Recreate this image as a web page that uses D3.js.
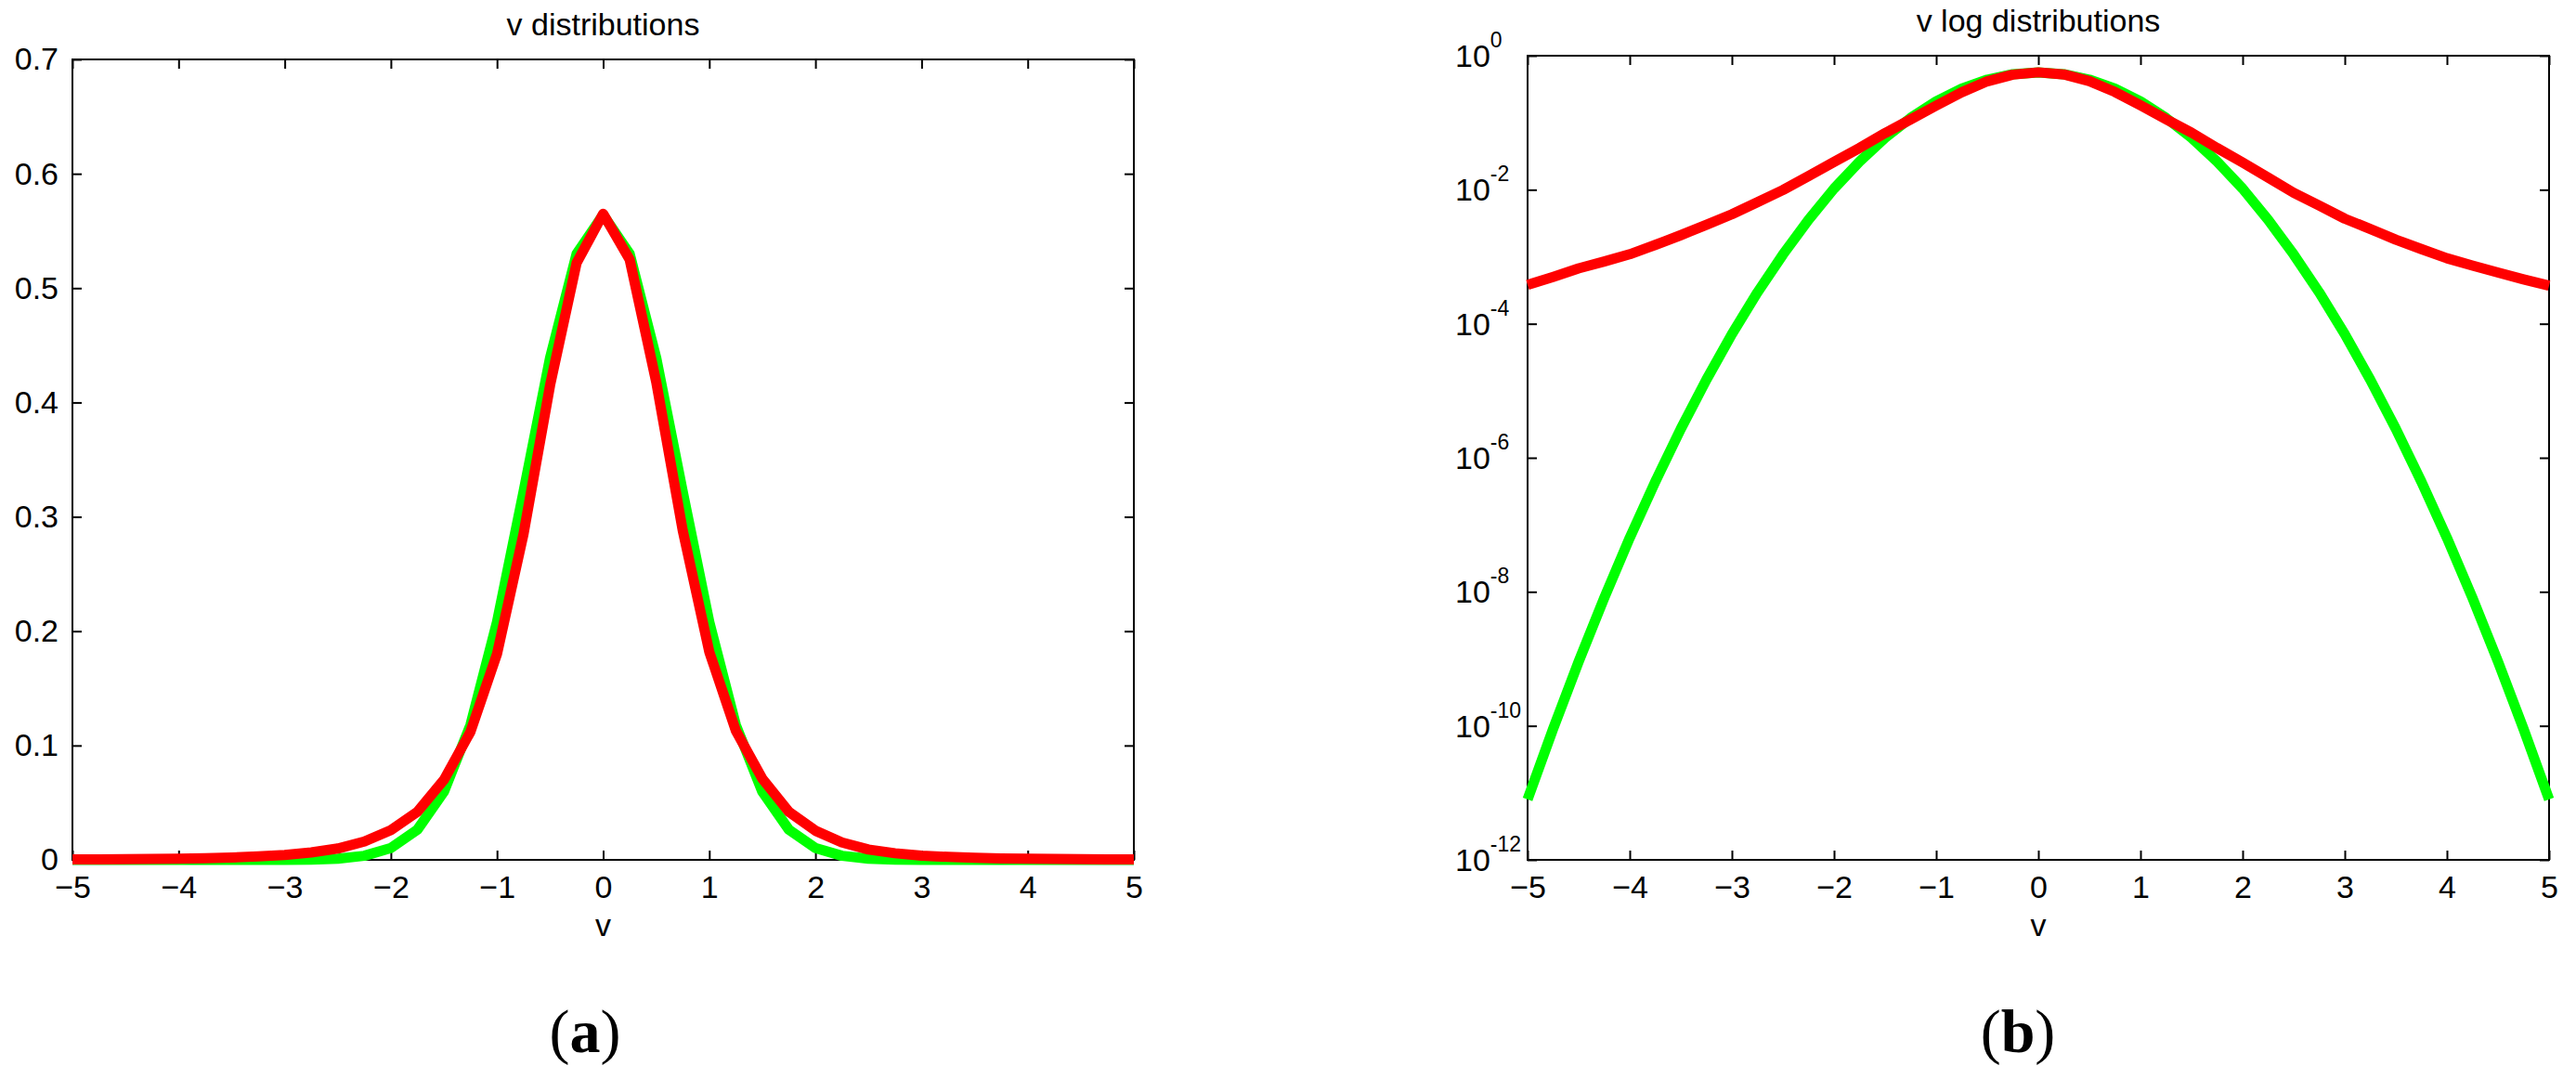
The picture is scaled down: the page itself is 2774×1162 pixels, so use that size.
<!DOCTYPE html>
<html>
<head>
<meta charset="utf-8">
<script src="https://cdn.jsdelivr.net/npm/d3@7"></script>
<style>
  html, body { margin: 0; padding: 0; background: #fff; }
  svg { display: block; }
</style>
</head>
<body>
<svg id="fig"></svg>
<script>
// sample points along v
var vValues = [-5, -4.75, -4.5, -4.25, -4, -3.75, -3.5, -3.25, -3, -2.75, -2.5, -2.25, -2, -1.75, -1.5, -1.25, -1,
  -0.75, -0.5, -0.25, 0, 0.25, 0.5, 0.75, 1, 1.25, 1.5, 1.75, 2, 2.25, 2.5, 2.75, 3, 3.25, 3.5, 3.75, 4,
  4.25, 4.5, 4.75, 5];

// green curve
var greenValues = [8e-12, 9.0e-11, 9.1e-10, 8.1e-9, 6.4e-8, 4.4e-7, 2.7e-6, 1.46e-5, 7.0e-5, 2.93e-4, 1.08e-3,
  3.55e-3, 0.0104, 0.0264, 0.0596, 0.118, 0.208, 0.322, 0.439, 0.530, 0.564, 0.530, 0.439, 0.322, 0.208,
  0.118, 0.0596, 0.0264, 0.0104, 3.55e-3, 1.08e-3, 2.93e-4, 7.0e-5, 1.46e-5, 2.7e-6, 4.4e-7, 6.4e-8,
  8.1e-9, 9.1e-10, 9.0e-11, 8e-12];

// red curve (heavier tails)
var redValues = [3.8e-4, 5.0e-4, 6.7e-4, 8.5e-4, 1.09e-3, 1.5e-3, 2.1e-3, 3.0e-3, 4.3e-3, 6.5e-3, 9.9e-3,
  0.0160, 0.0260, 0.042, 0.070, 0.112, 0.180, 0.285, 0.415, 0.522, 0.565, 0.525, 0.418, 0.288, 0.182,
  0.113, 0.071, 0.042, 0.0255, 0.0152, 0.0090, 0.0058, 0.0037, 0.0026, 0.0018, 0.0013, 9.5e-4,
  7.4e-4, 5.8e-4, 4.6e-4, 3.7e-4];

var xTicks = [-5, -4, -3, -2, -1, 0, 1, 2, 3, 4, 5];
var linTicks = [0, 0.1, 0.2, 0.3, 0.4, 0.5, 0.6, 0.7];
var logExponents = [-12, -10, -8, -6, -4, -2, 0];

var W = 2774, H = 1162;
var FONT = "'Liberation Sans', Arial, Helvetica, sans-serif";
var TICK_FS = 34;

var svg = d3.select('#fig').attr('width', W).attr('height', H);
svg.append('rect').attr('width', W).attr('height', H).attr('fill', '#fff');

var greenData = vValues.map((v, i) => ({v: v, y: greenValues[i]}));
var redData = vValues.map((v, i) => ({v: v, y: redValues[i]}));

var linFormat = d => d === 0 ? '0' : d3.format('.1f')(d);

// draws one MATLAB style panel
function panel(opt) {
  var g = svg.append('g');
  var x = d3.scaleLinear().domain([-5, 5]).range([opt.left, opt.right]);
  var y = opt.y;

  // box
  g.append('rect')
      .attr('x', opt.left).attr('y', opt.top)
      .attr('width', opt.right - opt.left).attr('height', opt.bottom - opt.top)
      .attr('fill', 'none').attr('stroke', '#000').attr('stroke-width', 2);

  // bottom axis with labels, ticks pointing inward
  var bottom = g.append('g')
      .attr('transform', 'translate(0,' + opt.bottom + ')')
      .call(d3.axisBottom(x).tickValues(xTicks).tickSizeInner(-10).tickSizeOuter(0).tickPadding(17));
  // top mirror ticks
  var top = g.append('g')
      .attr('transform', 'translate(0,' + opt.top + ')')
      .call(d3.axisTop(x).tickValues(xTicks).tickSizeInner(-10).tickSizeOuter(0).tickFormat(''));

  // left axis
  var leftAxis = d3.axisLeft(y).tickValues(opt.yTicks).tickSizeInner(-10).tickSizeOuter(0).tickPadding(15);
  leftAxis.tickFormat(opt.log ? '' : linFormat);
  var left = g.append('g')
      .attr('transform', 'translate(' + opt.left + ',0)')
      .call(leftAxis);
  var right = g.append('g')
      .attr('transform', 'translate(' + opt.right + ',0)')
      .call(d3.axisRight(y).tickValues(opt.yTicks).tickSizeInner(-10).tickSizeOuter(0).tickFormat(''));

  [bottom, top, left, right].forEach(a => {
    a.select('.domain').remove();
    a.selectAll('.tick line').attr('stroke', '#000').attr('stroke-width', 2);
    a.selectAll('text').attr('font-family', FONT).attr('font-size', TICK_FS).attr('fill', '#000');
  });

  if (opt.log) {
    // 10^n labels
    g.selectAll('.loglab')
      .data(logExponents)
      .enter().append('text')
      .attr('class', 'loglab')
      .attr('x', opt.left - 78)
      .attr('y', e => y(Math.pow(10, e)) + 12)
      .attr('font-family', FONT).attr('font-size', TICK_FS)
      .each(function(e) {
        var t = d3.select(this);
        t.append('tspan').text('10');
        t.append('tspan').attr('dy', -21).attr('font-size', 23).text(e < 0 ? '-' + (-e) : e);
      });
  }

  // title and axis label
  g.append('text')
      .attr('x', (opt.left + opt.right) / 2).attr('y', opt.top - 26)
      .attr('text-anchor', 'middle')
      .attr('font-family', FONT).attr('font-size', 34)
      .text(opt.title);
  g.append('text')
      .attr('x', (opt.left + opt.right) / 2).attr('y', opt.bottom + 82)
      .attr('text-anchor', 'middle')
      .attr('font-family', FONT).attr('font-size', TICK_FS)
      .text('v');

  // (a) / (b)
  var lab = g.append('text')
      .attr('x', opt.tag).attr('y', 1133)
      .attr('text-anchor', 'middle')
      .attr('font-family', "'Liberation Serif', 'DejaVu Serif', serif")
      .attr('font-size', 66);
  lab.append('tspan').text('(');
  lab.append('tspan').attr('font-weight', 'bold').text(opt.letter);
  lab.append('tspan').text(')');

  // curves
  var line = d3.line().x(d => x(d.v)).y(d => y(d.y));
  [[greenData, '#00ff00'], [redData, '#ff0000']].forEach(s => {
    g.append('path')
        .datum(s[0])
        .attr('d', line)
        .attr('fill', 'none')
        .attr('stroke', s[1])
        .attr('stroke-width', 11)
        .attr('stroke-linejoin', 'round')
        .attr('stroke-linecap', 'butt');
  });
}

panel({
  left: 78, right: 1221, top: 64, bottom: 926,
  y: d3.scaleLinear().domain([0, 0.7]).range([926, 64]),
  yTicks: linTicks,
  title: 'v distributions',
  tag: 630, letter: 'a'
});

panel({
  left: 1645, right: 2745, top: 60, bottom: 926, log: true,
  y: d3.scaleLog().domain([1e-12, 1]).range([926, 60]),
  yTicks: logExponents.map(e => Math.pow(10, e)),
  title: 'v log distributions',
  tag: 2173, letter: 'b'
});
</script>
</body>
</html>
